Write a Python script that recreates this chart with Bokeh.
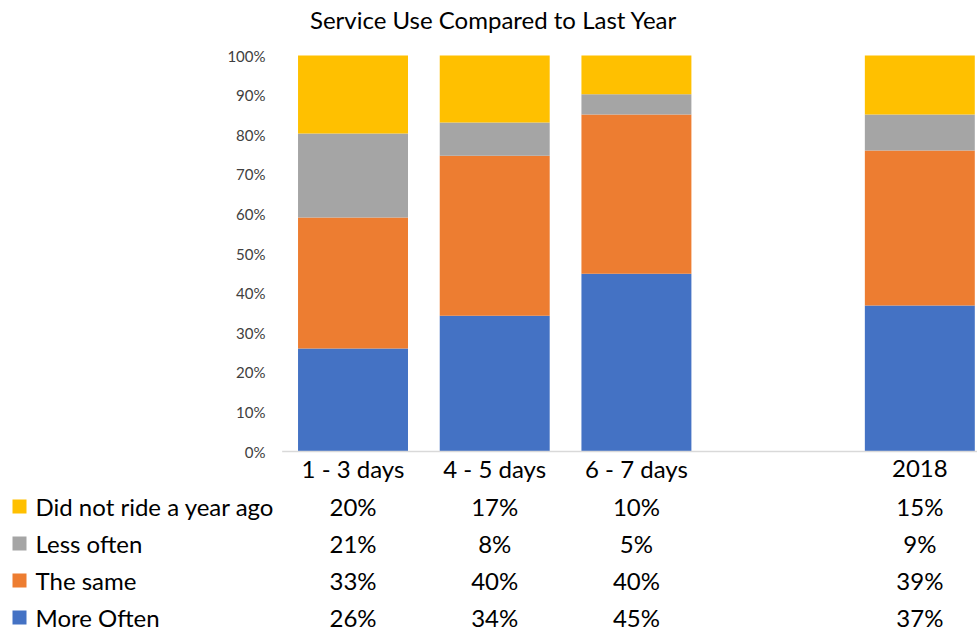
import numpy as np
from bokeh.plotting import figure
from bokeh.models import ColumnDataSource, Range1d
from bokeh.core.properties import value
from bokeh.embed import file_html
from bokeh.resources import INLINE

# ---- data ----
title_text = "Service Use Compared to Last Year"
categories = ["1 - 3 days", "4 - 5 days", "6 - 7 days", "", "2018"]
series_names = ["More Often", "The same", "Less often", "Did not ride a year ago"]
more_often = [26.0, 34.3, 44.9, None, 36.9]
the_same = [33.1, 40.4, 40.2, None, 39.1]
less_often = [21.2, 8.4, 5.1, None, 9.1]
did_not_ride = [19.7, 16.9, 9.8, None, 14.9]
y_ticks = [0, 10, 20, 30, 40, 50, 60, 70, 80, 90, 100]
colors = ["#4472C4", "#ED7D31", "#A5A5A5", "#FFC000"]

FONT = "Lato"
series_vals = [more_often, the_same, less_often, did_not_ride]
keys = ["more", "same", "less", "notride"]

idx = [i for i, c in enumerate(categories) if c]
src = ColumnDataSource(dict(
    x=idx,
    **{k: [v[i] for i in idx] for k, v in zip(keys, series_vals)}
))

p = figure(width=977, height=633, output_backend="svg", toolbar_location=None,
           x_range=Range1d(-2.4877, 4.407), y_range=Range1d(-45.96, 113.89),
           min_border=0, min_border_left=0, min_border_right=0,
           min_border_top=0, min_border_bottom=0)
p.xaxis.visible = False
p.yaxis.visible = False
p.grid.visible = False
p.outline_line_color = None
p.background_fill_color = "white"
p.border_fill_color = "white"

p.vbar_stack(keys, x="x", width=0.776, color=colors, line_color=None, source=src)

# category axis line
p.segment(x0=[-0.5], y0=[0], x1=[4.407], y1=[0], line_color="#D9D9D9", line_width=1.3)

# y tick labels
p.text(x=[-0.6175] * len(y_ticks), y=y_ticks, text=[f"{t}%" for t in y_ticks],
       text_font=value(FONT), text_font_size="15px", text_color="#404040",
       text_align="right", text_baseline="middle")

# category labels
p.text(x=idx, y=[-4.3] * len(idx), text=[categories[i] for i in idx],
       text_font=value(FONT), text_font_size="24px", text_color="#000000",
       text_align="center", text_baseline="middle")

# data table rows (top to bottom: did not ride, less often, the same, more often)
row_y = [-13.89, -23.24, -32.58, -41.92]
order = [3, 2, 1, 0]
for ry, si in zip(row_y, order):
    vals = series_vals[si]
    p.rect(x=[-2.3536], y=[ry], width=14, height=14, width_units="screen",
           height_units="screen", fill_color=colors[si], line_color=None)
    p.text(x=[-2.2406], y=[ry], text=[series_names[si]], text_font=value(FONT),
           text_font_size="24px", text_color="#000000", text_align="left",
           text_baseline="middle")
    p.text(x=idx, y=[ry] * len(idx), text=[f"{round(vals[i]):.0f}%" for i in idx],
           text_font=value(FONT), text_font_size="24px", text_color="#000000",
           text_align="center", text_baseline="middle")

# title
p.text(x=[0.992], y=[109.05], text=[title_text], text_font=value(FONT),
       text_font_size="24px", text_color="#000000", text_align="center",
       text_baseline="middle")

open("out.html", "w").write(file_html(p, INLINE))
